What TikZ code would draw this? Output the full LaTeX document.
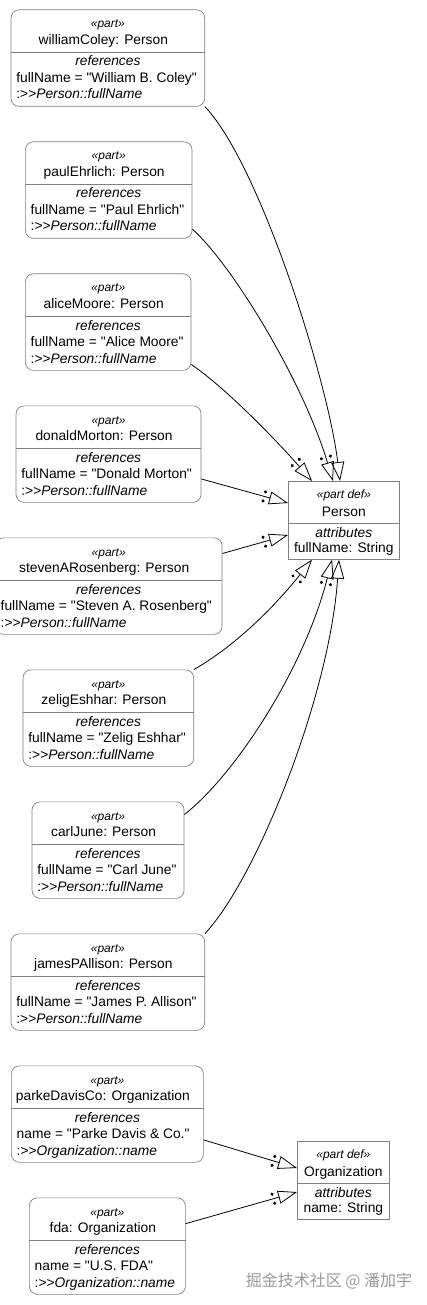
\documentclass[tikz,border=0pt]{standalone}
\usepackage{fontspec}
\newfontfamily\umlfont{Liberation Sans}
\newfontfamily\cjkfont{Noto Sans CJK SC}
\usetikzlibrary{calc, arrows.meta, decorations.markings}

\begin{document}
\begin{tikzpicture}[x=1pt, y=-1pt,
    part/.style = {draw=black!50, line width=.7pt, rounded corners=8pt, minimum height=96.5pt, inner sep=0pt, anchor=north west},
    pdef/.style = {draw=black!50, line width=.7pt, minimum height=78pt, inner sep=0pt, anchor=north west},
    stereo/.style = {font=\umlfont\fontsize{12}{14}\selectfont\itshape, anchor=base, inner sep=0pt},
    txt/.style = {font=\umlfont\fontsize{13.8}{16}\selectfont, anchor=base, inner sep=0pt},
    txti/.style = {txt, font=\umlfont\fontsize{13.8}{16}\selectfont\itshape},
    sep/.style = {draw=black!50, line width=.7pt},
    redef/.style = {line width=.8pt, -{Triangle[open, length=19pt, width=13pt]},
      postaction={decorate}, decoration={markings, mark=at position 1 with
        {\fill (-24.6pt,4.7pt) circle (1.7pt) (-24.6pt,-4.7pt) circle (1.7pt);}}}]
  \useasboundingbox (0,0) rectangle (426,1305);

  \foreach \nm/\lx/\rx/\k/\cls/\val/\feat in {
      williamColey/10.7/204.3/0/Person/{fullName = "William B. Coley"}/fullName,
      paulEhrlich/25/191.7/1/Person/{fullName = "Paul Ehrlich"}/fullName,
      aliceMoore/25/190.7/2/Person/{fullName = "Alice Moore"}/fullName,
      donaldMorton/15.7/200.7/3/Person/{fullName = "Donald Morton"}/fullName,
      stevenARosenberg/-5/221.7/4/Person/{fullName = "Steven A. Rosenberg"}/fullName,
      zeligEshhar/22.7/193.3/5/Person/{fullName = "Zelig Eshhar"}/fullName,
      carlJune/31.7/183.7/6/Person/{fullName = "Carl June"}/fullName,
      jamesPAllison/10.7/204.3/7/Person/{fullName = "James P. Allison"}/fullName,
      parkeDavisCo/11/203/8/Organization/{name = "Parke Davis \& Co."}/name,
      fda/29/185/9/Organization/{name = "U.S. FDA"}/name}
    {
      \node [part, minimum width={\rx-\lx}] (\nm) at (\lx, 9.5+132*\k) {};
      \node [stereo] (\nm-st) at ($(\nm.north)+(0,18.5)$) {«part»};
      \node [txt] (\nm-title) at ($(\nm.north)+(-4.5,35)$) {\nm: \cls};
      \draw [sep] ($(\nm.north west)+(0,42.5)$) -- ($(\nm.north east)+(0,42.5)$);
      \node [txti] (\nm-ref) at ($(\nm.north)+(0,56.5)$) {references};
      \node [txt, anchor=base west] (\nm-val) at ($(\nm.north west)+(5.5,73)$) {\val};
      \node [txt, anchor=base west] (\nm-feat) at ($(\nm.north west)+(5.5,89.5)$) {:>>\textit{\cls::\feat}};
    }

  \foreach \nm/\lx/\rx/\ty/\feat in {Person/288/399/481/fullName, Organization/297/389/1141/name}
    {
      \node [pdef, minimum width={\rx-\lx}] (\nm) at (\lx, \ty) {};
      \node [stereo] (\nm-st) at ($(\nm.north)+(0,17)$) {«part def»};
      \node [txt] (\nm-title) at ($(\nm.north)+(0,35)$) {\nm};
      \draw [sep] ($(\nm.north west)+(0,42.3)$) -- ($(\nm.north east)+(0,42.3)$);
      \node [txti] (\nm-attr) at ($(\nm.north)+(0,56)$) {attributes};
      \node [txt] (\nm-feat) at ($(\nm.north)+(0,71)$) {\feat: String};
    }

  \draw [redef] (williamColey.south east) .. controls +(55,58) and +(-12,-100) .. ([xshift=52pt]Person.north west);
  \draw [redef] (paulEhrlich.-25) .. controls +(40,36) and +(-30,-100) .. ([xshift=45pt]Person.north west);
  \draw [redef] (aliceMoore.-27) .. controls +(35,24) and +(-35,-40) .. ([xshift=24pt]Person.north west);
  \draw [redef] (donaldMorton.-15) -- ([yshift=-22pt]Person.north west);
  \draw [redef] (stevenARosenberg.16) -- ([yshift=-54pt]Person.north west);
  \draw [redef] (zeligEshhar.north east) .. controls +(40,-23) and +(-40,50) .. ([xshift=24pt]Person.south west);
  \draw [redef] (carlJune.25) .. controls +(50,-39) and +(-28,110) .. ([xshift=44pt]Person.south west);
  \draw [redef] (jamesPAllison.north east) .. controls +(50,-53) and +(-10,140) .. ([xshift=51pt]Person.south west);
  \draw [redef] (parkeDavisCo.-15) -- ([yshift=-27pt]Organization.north west);
  \draw [redef] (fda.16) -- ([yshift=-51pt]Organization.north west);

  \node [font=\cjkfont\fontsize{16}{18}\selectfont, text=black!40] (mark) at (329,1281) {掘金技术社区 @ 潘加宇};
\end{tikzpicture}
\end{document}
